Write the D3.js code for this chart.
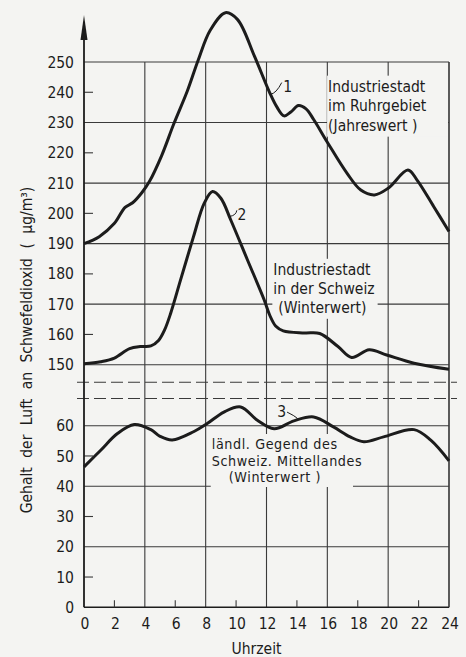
<!DOCTYPE html>
<html>
<head>
<meta charset="utf-8">
<script src="https://cdn.jsdelivr.net/npm/d3@7/dist/d3.min.js"></script>
<style>
  body { margin: 0; background: #f4f4f2; }
  svg { display: block; font-family: 'DejaVu Sans Condensed', 'DejaVu Sans', sans-serif; }
</style>
</head>
<body>
<svg id="chart" width="466" height="657"></svg>
<script>
// Data: hour of day and SO2 content (ug/m3)
const hoursRuhr = [0, 1, 2, 2.7, 3.2, 3.8, 4.3, 5.1, 5.9, 6.8, 7.5, 8.3, 9.3, 10.1, 11.2, 12.2, 12.7, 13.15, 13.6, 14.1, 14.6, 15.1, 16, 17.3, 18.2, 19.1, 20, 21.3, 21.9, 23, 24];
const valuesRuhr = [190, 192.3, 196.7, 202, 203.5, 206.8, 210.5, 219, 229.5, 240.5, 250.5, 260.5, 266.3, 264, 252, 240, 235, 232.2, 233.5, 235.6, 234.5, 231, 223.5, 213.2, 207.7, 206.1, 208.3, 214.3, 211, 202.2, 194];

const hoursSwissCity = [0, 1.1, 2, 3, 3.7, 4.4, 4.9, 5.3, 5.7, 6.35, 7.2, 7.9, 8.45, 9, 9.65, 10.75, 11.85, 12.2, 12.6, 13.1, 14.5, 15.5, 16.7, 17.6, 18.75, 19.9, 21.7, 24];
const valuesSwissCity = [150.3, 151, 152.2, 155.3, 156, 156.2, 158, 161.5, 167, 178, 192.3, 203.3, 207.2, 205, 197.8, 184.6, 171.4, 166.5, 162.8, 161.2, 160.5, 160.3, 156, 152.4, 154.9, 153.2, 150.5, 148.5];

const hoursRural = [0, 1.1, 2.2, 3.3, 4.4, 5, 5.8, 7.2, 8.1, 9.2, 10.3, 11.4, 12.5, 13.8, 15.1, 16.4, 17.5, 18.4, 19.7, 21.7, 22.8, 24];
const valuesRural = [46.4, 51.9, 57.4, 60.4, 58.7, 56.5, 55.3, 58, 60.7, 64.5, 66.2, 61.8, 59, 61.6, 62.9, 59.6, 56.3, 54.7, 56.3, 58.7, 55.2, 48.4];

const upperTicks = [150, 160, 170, 180, 190, 200, 210, 220, 230, 240, 250];
const lowerTicks = [0, 10, 20, 30, 40, 50, 60];
const hourTicks = [0, 2, 4, 6, 8, 10, 12, 14, 16, 18, 20, 22, 24];

const labelRuhr = ['Industriestadt', 'im Ruhrgebiet', '(Jahreswert )'];
const labelSwissCity = ['Industriestadt', 'in der Schweiz', '(Winterwert)'];
const labelRural = ['ländl. Gegend des', 'Schweiz. Mittellandes', '(Winterwert )'];

const ink = '#1c1c1c';
const grid = '#3a3a3a';
const paper = '#f4f4f2';

const svg = d3.select('#chart');

const x = d3.scaleLinear().domain([0, 24]).range([84, 449]);
const yTop = d3.scaleLinear().domain([150, 250]).range([364.7, 62]);
const yBot = d3.scaleLinear().domain([0, 60]).range([607.3, 425.7]);

const breakTop = yTop(144.2);
const breakBot = yBot(69);
const axisTop = yTop(265.5);

// grid
const g = svg.append('g');

// vertical grid lines through both panels
g.selectAll('.vgrid')
  .data(hourTicks.filter((h) => h > 0 && h % 4 === 0))
  .join('line')
  .attr('x1', (d) => x(d))
  .attr('x2', (d) => x(d))
  .attr('y1', yTop(250))
  .attr('y2', yBot(0))
  .attr('stroke', grid)
  .attr('stroke-width', 1.1);

// horizontal lines: full at every 20, short tick at the others
function hLines(ticks, scale, major) {
  g.append('g')
    .selectAll('line')
    .data(ticks)
    .join('line')
    .attr('x1', x(0))
    .attr('x2', (d) => (major(d) ? x(24) : x(0) + 9))
    .attr('y1', (d) => scale(d))
    .attr('y2', (d) => scale(d))
    .attr('stroke', grid)
    .attr('stroke-width', 1.1);
}
hLines(upperTicks, yTop, (d) => (d - 150) % 20 === 0);
hLines(lowerTicks.filter((d) => d > 0), yBot, (d) => d % 20 === 0);

// bottom axis line and small hour ticks
g.append('line')
  .attr('x1', x(0)).attr('x2', x(24))
  .attr('y1', yBot(0)).attr('y2', yBot(0))
  .attr('stroke', ink).attr('stroke-width', 1.6);
g.selectAll('.htick')
  .data(hourTicks.filter((h) => h % 4 === 2))
  .join('line')
  .attr('x1', (d) => x(d)).attr('x2', (d) => x(d))
  .attr('y1', yBot(0)).attr('y2', yBot(0) - 7)
  .attr('stroke', grid).attr('stroke-width', 1.1);

// break lines
[breakTop, breakBot].forEach((yy) => {
  g.append('line')
    .attr('x1', x(0) - 7).attr('x2', x(24) + 8)
    .attr('y1', yy).attr('y2', yy)
    .attr('stroke', grid).attr('stroke-width', 1.1)
    .attr('stroke-dasharray', '12,5');
});

// paper boxes behind the text labels hide the grid there
function label(lines, hx, yy, spacing, size, boxRight, indents) {
  const lg = svg.append('g');
  const box = lg.append('rect').attr('fill', paper);
  const t = lg.append('text')
    .attr('font-size', size)
    .attr('fill', ink);
  lines.forEach((s, i) => {
    t.append('tspan')
      .attr('x', x(hx) + (indents[i] || 0))
      .attr('y', yy + i * spacing)
      .text(s);
  });
  const bb = t.node().getBBox();
  const right = boxRight != null ? boxRight : bb.x + bb.width + 3;
  box.attr('x', bb.x - 1).attr('y', bb.y - 2)
    .attr('width', right - bb.x + 1).attr('height', bb.height + 4);
  return t;
}
label(labelRuhr, 16.05, yTop(240.2), 19.5, 15.5, x(24) - 1, [0, 0, 0]);
label(labelSwissCity, 12.45, yTop(179.7), 19, 15.5, null, [0, 0, 5]);
label(labelRural, 8.4, yBot(52.3), 16.5, 14.2, null, [0, 0, 17])
  .attr('letter-spacing', 0.6);

// y axis with arrow
svg.append('line')
  .attr('x1', x(0)).attr('x2', x(0))
  .attr('y1', yBot(0)).attr('y2', axisTop + 10)
  .attr('stroke', ink).attr('stroke-width', 1.8);
svg.append('path')
  .attr('d', `M${x(0)},${axisTop} L${x(0) - 3.5},${axisTop + 25} L${x(0) + 3.5},${axisTop + 25} Z`)
  .attr('fill', ink);

// right border
svg.append('line')
  .attr('x1', x(24)).attr('x2', x(24))
  .attr('y1', yTop(250)).attr('y2', yBot(0))
  .attr('stroke', grid).attr('stroke-width', 1.2);

// tick labels
const tl = svg.append('g').attr('font-size', 15.5).attr('fill', ink);
tl.selectAll('.tu')
  .data(upperTicks)
  .join('text')
  .attr('x', x(0) - 10)
  .attr('y', (d) => yTop(d))
  .attr('dy', '0.36em')
  .attr('text-anchor', 'end')
  .text((d) => d);
tl.selectAll('.tb')
  .data(lowerTicks)
  .join('text')
  .attr('x', x(0) - 10)
  .attr('y', (d) => yBot(d))
  .attr('dy', '0.36em')
  .attr('text-anchor', 'end')
  .text((d) => d);
tl.selectAll('.tx')
  .data(hourTicks)
  .join('text')
  .attr('x', (d) => x(d) + 1)
  .attr('y', 629)
  .attr('text-anchor', 'middle')
  .text((d) => d);

svg.append('text')
  .attr('x', x(12) - 10)
  .attr('y', 654)
  .attr('text-anchor', 'middle')
  .attr('font-size', 15.5)
  .attr('fill', ink)
  .text('Uhrzeit');

svg.append('text')
  .attr('transform', 'translate(32,350) rotate(-90)')
  .attr('text-anchor', 'middle')
  .attr('font-size', 15.5)
  .attr('word-spacing', 5)
  .attr('fill', ink)
  .text('Gehalt der Luft an Schwefeldioxid ( µg/m³)');

// curves
function curve(hours, values, scale) {
  const line = d3.line()
    .x((d) => x(d[0]))
    .y((d) => scale(d[1]))
    .curve(d3.curveCatmullRom.alpha(0.5));
  svg.append('path')
    .datum(hours.map((h, i) => [h, values[i]]))
    .attr('d', line)
    .attr('fill', 'none')
    .attr('stroke', ink)
    .attr('stroke-width', 3)
    .attr('stroke-linejoin', 'round');
}
curve(hoursRuhr, valuesRuhr, yTop);
curve(hoursSwissCity, valuesSwissCity, yTop);
curve(hoursRural, valuesRural, yBot);

// curve numbers with small leader lines
function tag(txt, hx, yy, fromH, fromY, toX, toY) {
  svg.append('path')
    .attr('d', `M${x(fromH)},${fromY} Q${x(fromH) + 6},${fromY - 1} ${toX},${toY}`)
    .attr('fill', 'none').attr('stroke', ink).attr('stroke-width', 1);
  svg.append('text')
    .attr('x', x(hx)).attr('y', yy)
    .attr('font-size', 15.5).attr('fill', ink)
    .text(txt);
}
tag('1', 13.1, 92, 12.25, yTop(239.3), x(13.0), yTop(243.2));
tag('2', 10.1, 220, 9.6, yTop(199), x(10.05), yTop(201));
tag('3', 12.7, 417, 13.95, yBot(61.7), x(13.35), yBot(64.5));
</script>
</body>
</html>
